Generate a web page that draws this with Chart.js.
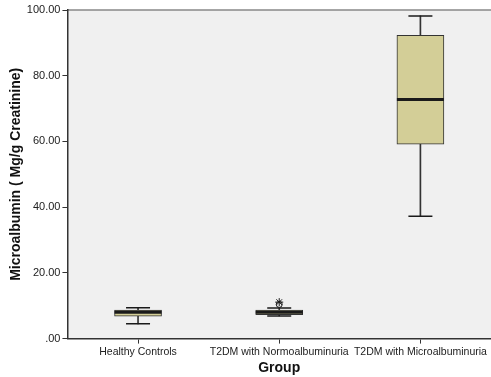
<!DOCTYPE html>
<html>
<head>
<meta charset="utf-8">
<script src="https://cdn.jsdelivr.net/npm/chart.js@4.4.0/dist/chart.umd.min.js"></script>
<style>
  body { margin: 0; background: #fff; }
  #wrap { width: 491px; height: 377px; }
</style>
</head>
<body>
<div id="wrap"><canvas id="chart"></canvas></div>
<script>
// values
const groups = ['Healthy Controls', 'T2DM with Normoalbuminuria', 'T2DM with Microalbuminuria'];
const whiskerLow  = [4.5, 6.9, 37.2];
const boxQ1       = [6.8, 7.3, 59.2];
const boxMedian   = [8.0, 8.0, 72.8];
const boxQ3       = [8.7, 8.7, 92.3];
const whiskerHigh = [9.4, 9.3, 98.2];
const outlierCircle = [null, 10.4, null];
const outlierStar   = [null, 11.1, null];

const boxFill = '#d3ce97';
const ink = '#1a1a1a';

// grey plot background + top frame line
const plotBackground = {
    id: 'plotBackground',
    beforeDraw(chart) {
        const { ctx, chartArea: a } = chart;
        ctx.save();
        ctx.fillStyle = '#f0f0f0';
        ctx.fillRect(a.left, a.top, a.right - a.left, a.bottom - a.top);
        ctx.strokeStyle = '#888';
        ctx.lineWidth = 1.5;
        ctx.beginPath();
        ctx.moveTo(a.left, a.top);
        ctx.lineTo(a.right, a.top);
        ctx.stroke();
        ctx.restore();
    }
};

const pointSet = (data, style, radius, width, order) => ({
    type: 'line',
    data: data,
    showLine: false,
    pointStyle: style,
    pointRadius: radius,
    pointHoverRadius: radius,
    pointBorderColor: ink,
    pointBackgroundColor: 'rgba(0,0,0,0)',
    pointBorderWidth: width,
    order: order
});

new Chart(document.getElementById('chart'), {
    type: 'bar',
    data: {
        labels: groups,
        datasets: [
            {
                // whisker line
                data: whiskerLow.map((v, i) => [v, whiskerHigh[i]]),
                backgroundColor: '#333',
                barThickness: 1,
                grouped: false,
                order: 5
            },
            {
                // box
                data: boxQ1.map((v, i) => [v, boxQ3[i]]),
                backgroundColor: boxFill,
                borderColor: '#333',
                borderWidth: 1,
                borderSkipped: false,
                barThickness: 47,
                grouped: false,
                order: 4
            },
            pointSet(whiskerLow, 'line', 12, 1.5, 3),
            pointSet(whiskerHigh, 'line', 12, 1.5, 3),
            pointSet(boxMedian, 'line', 23.5, 3, 2),
            pointSet(outlierCircle, 'circle', 3, 1, 1),
            pointSet(outlierStar, 'star', 4, 1, 1)
        ]
    },
    options: {
        responsive: true,
        maintainAspectRatio: false,
        animation: false,
        layout: { autoPadding: false, padding: { top: 10, left: 8, right: 0, bottom: 0 } },
        plugins: {
            legend: { display: false },
            tooltip: { enabled: false }
        },
        scales: {
            x: {
                offset: true,
                grid: { display: true, drawOnChartArea: false, offset: false, tickLength: 5, color: '#333' },
                border: { display: true, color: '#333', width: 1.5 },
                ticks: { color: '#222', font: { family: 'Liberation Sans', size: 10.5 }, padding: 2, maxRotation: 0, autoSkip: false },
                title: {
                    display: true,
                    text: 'Group',
                    color: '#111',
                    font: { family: 'Liberation Sans', size: 14, weight: 'bold' },
                    padding: { top: 0, bottom: 0 }
                }
            },
            y: {
                min: 0,
                max: 100,
                grid: { display: true, drawOnChartArea: false, tickLength: 5, color: '#333' },
                border: { display: true, color: '#333', width: 1.5 },
                ticks: {
                    stepSize: 20,
                    color: '#222',
                    padding: 2,
                    font: { family: 'Liberation Sans', size: 11 },
                    callback: v => v === 0 ? '.00' : v.toFixed(2)
                },
                title: {
                    display: true,
                    text: 'Microalbumin ( Mg/g Creatinine)',
                    color: '#111',
                    font: { family: 'Liberation Sans', size: 14, weight: 'bold' },
                    padding: { top: 0, bottom: 0 }
                }
            }
        }
    },
    plugins: [plotBackground]
});
</script>
</body>
</html>
